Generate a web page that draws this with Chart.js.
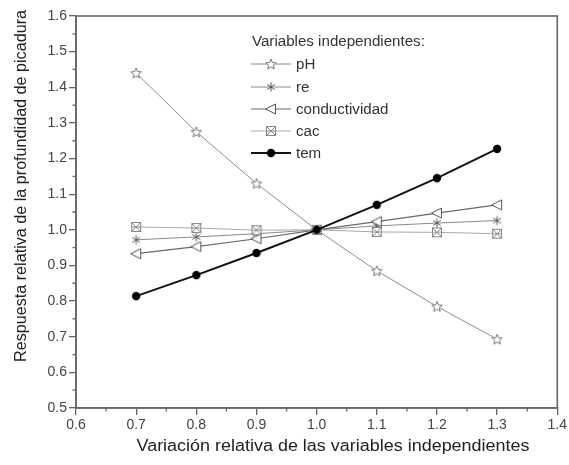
<!DOCTYPE html>
<html>
<head>
<meta charset="utf-8">
<script src="https://cdn.jsdelivr.net/npm/chart.js@4.4.1/dist/chart.umd.min.js"></script>
<style>
  html, body { margin: 0; padding: 0; background: #fff; }
  #wrap { width: 569px; height: 465px; position: relative; }
</style>
</head>
<body>
<div id="wrap"><canvas id="picadura"></canvas></div>
<script>
// relative variation of each independent variable
const variacion = [0.7, 0.8, 0.9, 1.0, 1.1, 1.2, 1.3];

// relative pit depth response per variable
const pH            = [1.44, 1.275, 1.13, 1.0, 0.885, 0.785, 0.693];
const re            = [0.972, 0.980, 0.989, 1.0, 1.011, 1.019, 1.026];
const conductividad = [0.933, 0.953, 0.975, 1.0, 1.023, 1.047, 1.070];
const cac           = [1.008, 1.005, 0.999, 1.0, 0.994, 0.993, 0.989];
const tem           = [0.814, 0.873, 0.935, 1.0, 1.070, 1.145, 1.227];

const xTicks = [0.6, 0.7, 0.8, 0.9, 1.0, 1.1, 1.2, 1.3, 1.4];
const yTicks = [0.5, 0.6, 0.7, 0.8, 0.9, 1.0, 1.1, 1.2, 1.3, 1.4, 1.5, 1.6];

const FONT = '"Liberation Sans", Arial, sans-serif';

// small canvases used as marker shapes
function marker(draw, size) {
  const c = document.createElement('canvas');
  c.width = size; c.height = size;
  const g = c.getContext('2d');
  draw(g, size / 2);
  return c;
}

const starMark = marker((g, m) => {
  g.beginPath();
  for (let i = 0; i < 10; i++) {
    const r = i % 2 === 0 ? 5.5 : 2.4;
    const a = -Math.PI / 2 + i * Math.PI / 5;
    const px = m + r * Math.cos(a), py = m + 0.5 + r * Math.sin(a);
    i === 0 ? g.moveTo(px, py) : g.lineTo(px, py);
  }
  g.closePath();
  g.fillStyle = '#fff'; g.fill();
  g.strokeStyle = '#777'; g.lineWidth = 1; g.stroke();
}, 14);

const asteriskMark = marker((g, m) => {
  const r = 4.5;
  g.strokeStyle = '#555'; g.lineWidth = 1;
  g.beginPath();
  g.moveTo(m, m - r); g.lineTo(m, m + r);
  g.moveTo(m - r * 0.85, m - r * 0.55); g.lineTo(m + r * 0.85, m + r * 0.55);
  g.moveTo(m + r * 0.85, m - r * 0.55); g.lineTo(m - r * 0.85, m + r * 0.55);
  g.stroke();
}, 14);

const triLeftMark = marker((g, m) => {
  g.beginPath();
  g.moveTo(m - 5.5, m);
  g.lineTo(m + 4.5, m - 5);
  g.lineTo(m + 4.5, m + 5);
  g.closePath();
  g.fillStyle = '#fff'; g.fill();
  g.strokeStyle = '#555'; g.lineWidth = 1; g.stroke();
}, 14);

const boxXMark = marker((g, m) => {
  g.fillStyle = '#fff';
  g.fillRect(m - 4.5, m - 4.5, 9, 9);
  g.strokeStyle = '#888'; g.lineWidth = 1;
  g.strokeRect(m - 4.5, m - 4.5, 9, 9);
  g.beginPath();
  g.moveTo(m - 4.5, m - 4.5); g.lineTo(m + 4.5, m + 4.5);
  g.moveTo(m + 4.5, m - 4.5); g.lineTo(m - 4.5, m + 4.5);
  g.moveTo(m - 4.5, m); g.lineTo(m + 4.5, m);
  g.stroke();
}, 14);

const dotMark = marker((g, m) => {
  g.fillStyle = '#000';
  g.beginPath();
  g.arc(m, m, 4.2, 0, Math.PI * 2);
  g.fill();
}, 14);

const pts = ys => variacion.map((x, i) => ({ x: x, y: ys[i] }));

const series = [
  { label: 'pH', data: pts(pH), borderColor: '#8c8c8c', borderWidth: 1, pointStyle: starMark, order: 5 },
  { label: 're', data: pts(re), borderColor: '#8a8a8a', borderWidth: 1, pointStyle: asteriskMark, order: 4 },
  { label: 'conductividad', data: pts(conductividad), borderColor: '#6a6a6a', borderWidth: 1.2, pointStyle: triLeftMark, order: 3 },
  { label: 'cac', data: pts(cac), borderColor: '#a8a8a8', borderWidth: 1, pointStyle: boxXMark, order: 2 },
  { label: 'tem', data: pts(tem), borderColor: '#111', borderWidth: 2, pointStyle: dotMark, order: 1 }
];

// text squeezed or stretched to a set width
function fitText(ctx, text, cx, cy, width, rot) {
  ctx.save();
  ctx.translate(cx, cy);
  if (rot) ctx.rotate(rot);
  const w = ctx.measureText(text).width;
  ctx.scale(width / w, 1);
  ctx.fillText(text, 0, 0);
  ctx.restore();
}

// legend text, a little wider than the plain font
function wideText(ctx, text, x, y) {
  ctx.save();
  ctx.translate(x, y);
  ctx.scale(1.08, 1);
  ctx.fillText(text, 0, 0);
  ctx.restore();
}

// frame, minor ticks, axis titles and legend block
const decor = {
  id: 'decor',
  afterDraw(chart) {
    const { ctx, chartArea: a, scales: { x, y } } = chart;
    ctx.save();
    ctx.strokeStyle = '#666';
    ctx.lineWidth = 1.6;
    ctx.strokeRect(a.left, a.top, a.right - a.left, a.bottom - a.top);

    // minor ticks halfway between labelled ones
    ctx.lineWidth = 1.3;
    ctx.beginPath();
    for (let i = 0; i < xTicks.length - 1; i++) {
      const px = x.getPixelForValue((xTicks[i] + xTicks[i + 1]) / 2);
      ctx.moveTo(px, a.bottom); ctx.lineTo(px, a.bottom + 3.5);
    }
    for (let i = 0; i < yTicks.length - 1; i++) {
      const py = y.getPixelForValue((yTicks[i] + yTicks[i + 1]) / 2);
      ctx.moveTo(a.left, py); ctx.lineTo(a.left - 3.5, py);
    }
    ctx.stroke();

    // axis titles
    ctx.fillStyle = '#222';
    ctx.font = '16px ' + FONT;
    ctx.textAlign = 'center';
    ctx.textBaseline = 'middle';
    fitText(ctx, 'Variación relativa de las variables independientes', 333, 447, 393, 0);
    fitText(ctx, 'Respuesta relativa de la profundidad de picadura', 22, 186, 352, -Math.PI / 2);

    // legend
    ctx.font = '14px ' + FONT;
    ctx.textAlign = 'left';
    ctx.fillStyle = '#333';
    wideText(ctx, 'Variables independientes:', 252, 42);
    const rows = [64, 87, 109, 131, 153];
    chart.data.datasets.forEach((ds, i) => {
      const yy = rows[i];
      ctx.strokeStyle = ds.borderColor;
      ctx.lineWidth = ds.borderWidth;
      ctx.beginPath();
      ctx.moveTo(251, yy); ctx.lineTo(291, yy);
      ctx.stroke();
      Chart.helpers.drawPoint(ctx, { pointStyle: ds.pointStyle, radius: 5, borderWidth: 1, rotation: 0 }, 271, yy);
      ctx.fillStyle = '#333';
      wideText(ctx, ds.label, 296, yy + 1);
    });
    ctx.restore();
  }
};

new Chart(document.getElementById('picadura'), {
  type: 'line',
  data: {
    datasets: series.map(s => Object.assign({
      fill: false,
      tension: 0,
      pointRadius: 5,
      pointHoverRadius: 5,
      pointBackgroundColor: '#fff',
      pointBorderColor: '#666',
      pointBorderWidth: 1
    }, s))
  },
  options: {
    responsive: true,
    maintainAspectRatio: false,
    animation: false,
    events: [],
    layout: { padding: { top: 16, right: 11, left: 0, bottom: 0 } },
    plugins: { legend: { display: false }, tooltip: { enabled: false } },
    scales: {
      x: {
        type: 'linear',
        min: 0.6, max: 1.4,
        afterBuildTicks: s => { s.ticks = xTicks.map(v => ({ value: v })); },
        afterFit: s => { s.height = 57; },
        grid: { drawOnChartArea: false, drawTicks: true, tickLength: 7, color: '#666', lineWidth: 1.3 },
        border: { display: true, color: '#666', width: 1.6 },
        ticks: {
          color: '#444', padding: 2, maxRotation: 0,
          font: { family: FONT, size: 14 },
          callback: v => v.toFixed(1)
        }
      },
      y: {
        type: 'linear',
        min: 0.5, max: 1.6,
        afterBuildTicks: s => { s.ticks = yTicks.map(v => ({ value: v })); },
        afterFit: s => { s.width = 76; },
        grid: { drawOnChartArea: false, drawTicks: true, tickLength: 7, color: '#666', lineWidth: 1.3 },
        border: { display: true, color: '#666', width: 1.6 },
        ticks: {
          color: '#444', padding: 2,
          font: { family: FONT, size: 14 },
          callback: v => v.toFixed(1)
        }
      }
    }
  },
  plugins: [decor]
});
</script>
</body>
</html>
